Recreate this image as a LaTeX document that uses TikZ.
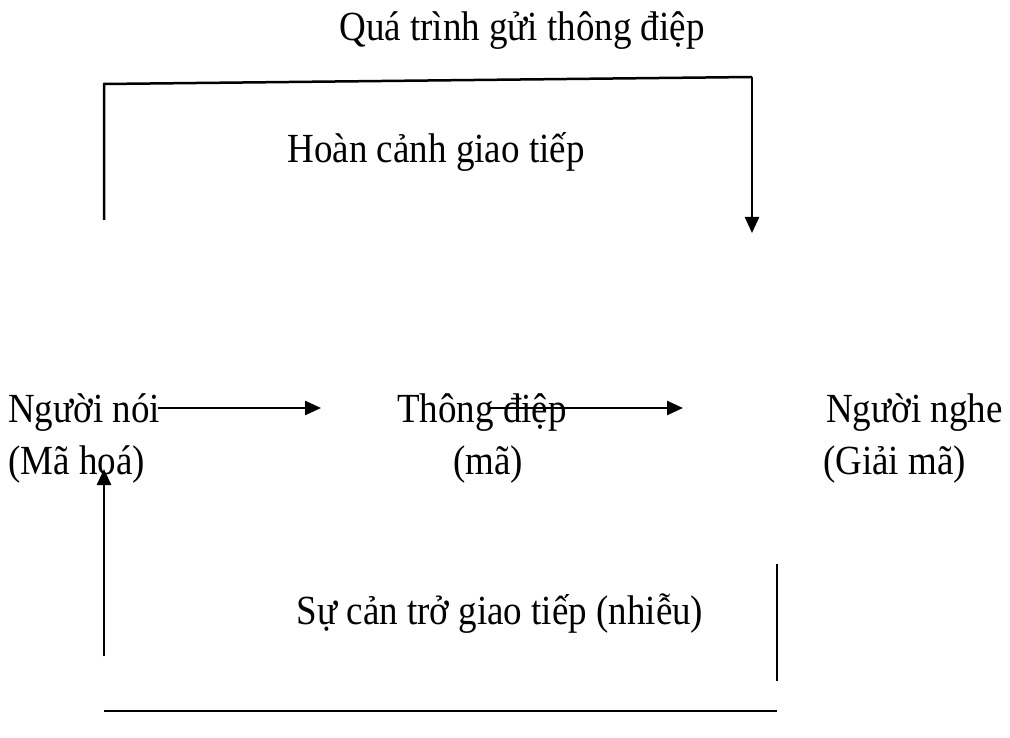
\documentclass[tikz,border=0pt]{standalone}
\usepackage{fontspec}
\setmainfont{Liberation Serif}
\usetikzlibrary{arrows.meta}
\begin{document}
\begin{tikzpicture}[x=1pt,y=-1pt,
  lbl/.style={inner sep=0pt,font=\fontsize{37}{42}\selectfont},
  ln/.style={line width=2.5pt},
  arr/.style={ln,-{Triangle[length=16pt,width=14pt]}}]
\useasboundingbox (0,0) rectangle (1010,738);
\node[lbl,anchor=base] (title) at (522,41) {\scalebox{1}[1.12]{Quá trình gửi thông điệp}};
\node[lbl,anchor=base] (context) at (436,163) {\scalebox{1}[1.12]{Hoàn cảnh giao tiếp}};
\node[lbl,anchor=base west] (speaker) at (8,422) {\scalebox{1}[1.12]{Người nói}};
\node[lbl,anchor=base west] (message) at (397,422) {\scalebox{1}[1.12]{Thông điệp}};
\node[lbl,anchor=base west] (listener) at (826,422) {\scalebox{1}[1.12]{Người nghe}};
\node[lbl,anchor=base west] (encode) at (8,474) {\scalebox{1}[1.12]{(Mã hoá)}};
\node[lbl,anchor=base west] (code) at (453,474) {\scalebox{1}[1.12]{(mã)}};
\node[lbl,anchor=base west] (decode) at (823,474) {\scalebox{1}[1.12]{(Giải mã)}};
\node[lbl,anchor=base] (noise) at (500,624) {\scalebox{1}[1.12]{Sự cản trở giao tiếp (nhiễu)}};
\coordinate (tl) at (104,84);
\coordinate (tr) at (752,77);
\coordinate (lb) at (104,220);
\coordinate (rb) at (752,233);
\coordinate (a1s) at (158,408);
\coordinate (a1e) at (321,408);
\coordinate (a2s) at (490,408);
\coordinate (a2e) at (683,408);
\coordinate (us) at (104,656);
\coordinate (ue) at (104,469);
\coordinate (rs) at (777,564);
\coordinate (re) at (777,681);
\coordinate (bl) at (104,711);
\coordinate (br) at (777,711);
\draw[ln] (lb) -- (tl) -- (tr);
\draw[arr] (tr) -- (rb);
\draw[arr] (a1s) -- (a1e);
\draw[arr] (a2s) -- (a2e);
\draw[arr] (us) -- (ue);
\draw[ln] (rs) -- (re);
\draw[ln] (bl) -- (br);
\end{tikzpicture}
\end{document}
